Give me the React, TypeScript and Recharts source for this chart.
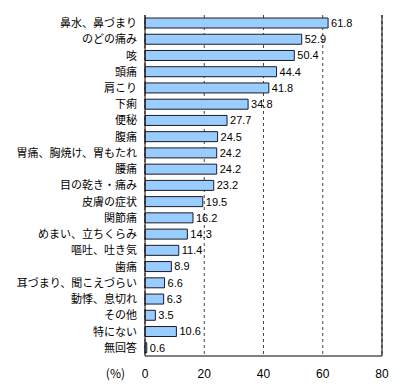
import { BarChart, Bar, XAxis, YAxis, CartesianGrid, LabelList, ReferenceLine } from 'recharts';

const symptoms = [
  '鼻水、鼻づまり',
  'のどの痛み',
  '咳',
  '頭痛',
  '肩こり',
  '下痢',
  '便秘',
  '腹痛',
  '胃痛、胸焼け、胃もたれ',
  '腰痛',
  '目の乾き・痛み',
  '皮膚の症状',
  '関節痛',
  'めまい、立ちくらみ',
  '嘔吐、吐き気',
  '歯痛',
  '耳づまり、聞こえづらい',
  '動悸、息切れ',
  'その他',
  '特にない',
  '無回答',
];

const percents = [61.8, 52.9, 50.4, 44.4, 41.8, 34.8, 27.7, 24.5, 24.2, 24.2, 23.2, 19.5, 16.2, 14.3, 11.4, 8.9, 6.6, 6.3, 3.5, 10.6, 0.6];

const xTicks = [0, 20, 40, 60, 80];

const data = symptoms.map((name, i) => ({ name, value: percents[i] }));

const jpFont = '"Noto Sans CJK JP", "Noto Sans", sans-serif';
const numFont = '"Liberation Sans", Arial, sans-serif';

export default function App() {
  return (
    <div style={{ position: 'absolute', left: 0, top: 0, background: '#fff' }}>
      <BarChart
        width={400}
        height={391}
        data={data}
        layout="vertical"
        margin={{ top: 15, right: 18, bottom: 0, left: 0 }}
        barCategoryGap={3}
      >
        <CartesianGrid horizontal={false} stroke="#444" strokeDasharray="3 3" />
        <XAxis
          type="number"
          domain={[0, 80]}
          ticks={xTicks}
          height={35}
          tickLine={false}
          tickMargin={7}
          axisLine={{ stroke: '#000' }}
          tick={{ fill: '#000', fontSize: 12, fontFamily: numFont }}
          label={{ value: '(%)', position: 'left', offset: 20, fill: '#000', fontSize: 12, fontFamily: jpFont }}
        />
        <XAxis
          xAxisId="top"
          type="number"
          domain={[0, 80]}
          ticks={xTicks}
          orientation="top"
          height={0}
          tick={false}
          tickLine={false}
          axisLine={{ stroke: '#000' }}
        />
        <YAxis
          type="category"
          dataKey="name"
          width={145}
          interval={0}
          tickLine={false}
          axisLine={{ stroke: '#000' }}
          tick={{ fill: '#000', fontSize: 11, fontFamily: jpFont }}
        />
        <ReferenceLine x={80} stroke="#000" />
        <Bar dataKey="value" fill="#99CCFF" stroke="#1a1a2a" strokeWidth={1} barSize={10} isAnimationActive={false}>
          <LabelList dataKey="value" position="right" offset={3} fill="#000" fontSize={11} fontFamily={numFont} />
        </Bar>
      </BarChart>
    </div>
  );
}
